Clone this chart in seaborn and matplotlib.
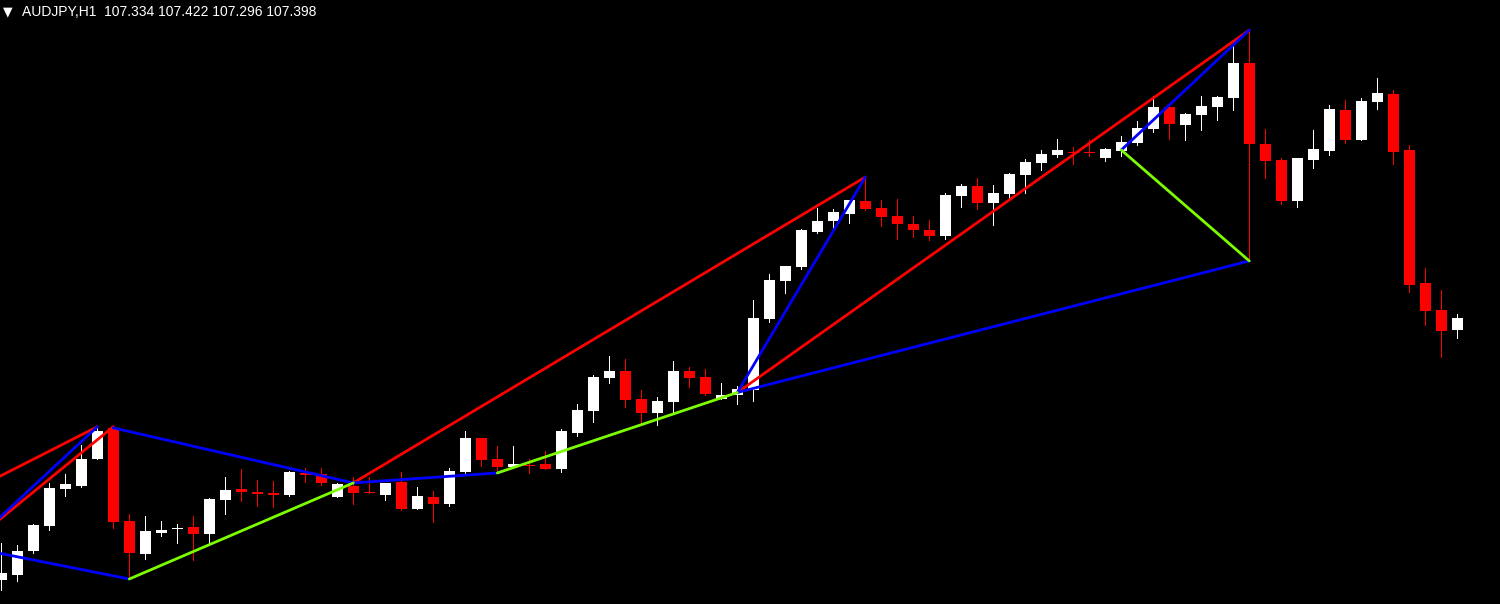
"""
AUDJPY H1 candles with zigzag trend lines, MT4 look
"""

import matplotlib
matplotlib.use('Agg')
import matplotlib.pyplot as plt
import seaborn as sns
import pandas as pd
import numpy as np

# OHLC per bar (bar 0 = leftmost visible)
opens = [106.007, 106.033, 106.161, 106.294, 106.492, 106.507, 106.650, 106.815, 106.320, 106.145,
         106.258, 106.276, 106.290, 106.251, 106.434, 106.492, 106.475, 106.471, 106.460, 106.576,
         106.570, 106.448, 106.507, 106.476, 106.459, 106.528, 106.384, 106.448, 106.411, 106.581,
         106.764, 106.650, 106.608, 106.618, 106.624, 106.597, 106.790, 106.907, 107.083, 107.118,
         106.969, 106.896, 106.955, 107.118, 107.086, 106.969, 106.991, 107.017, 107.395, 107.599,
         107.672, 107.858, 107.916, 107.954, 108.023, 107.985, 107.943, 107.900, 107.868, 107.837,
         108.050, 108.103, 108.012, 108.060, 108.161, 108.225, 108.267, 108.285, 108.283, 108.253,
         108.290, 108.331, 108.406, 108.523, 108.427, 108.480, 108.523, 108.571, 108.757, 108.326,
         108.241, 108.023, 108.241, 108.289, 108.507, 108.347, 108.549, 108.592, 108.294, 107.586,
         107.443, 107.334]
highs = [106.203, 106.193, 106.304, 106.523, 106.570, 106.725, 106.820, 106.820, 106.358, 106.347,
         106.320, 106.304, 106.347, 106.443, 106.554, 106.597, 106.539, 106.533, 106.586, 106.602,
         106.602, 106.523, 106.554, 106.554, 106.524, 106.581, 106.502, 106.480, 106.602, 106.801,
         106.764, 106.719, 106.719, 106.650, 106.693, 106.810, 106.943, 107.099, 107.198, 107.182,
         107.017, 106.982, 107.172, 107.140, 107.129, 107.055, 107.039, 107.496, 107.634, 107.677,
         107.874, 107.987, 107.980, 108.028, 108.151, 108.028, 108.033, 107.943, 107.922, 108.066,
         108.113, 108.145, 108.108, 108.172, 108.246, 108.294, 108.353, 108.312, 108.347, 108.305,
         108.369, 108.448, 108.581, 108.539, 108.491, 108.581, 108.581, 108.847, 108.936, 108.406,
         108.251, 108.251, 108.400, 108.533, 108.560, 108.571, 108.677, 108.613, 108.321, 107.666,
         107.549, 107.422]
lows = [105.953, 106.001, 106.150, 106.272, 106.453, 106.502, 106.650, 106.283, 106.017, 106.118,
        106.241, 106.203, 106.113, 106.198, 106.358, 106.427, 106.400, 106.395, 106.453, 106.528,
        106.512, 106.448, 106.411, 106.468, 106.432, 106.379, 106.384, 106.315, 106.400, 106.577,
        106.613, 106.581, 106.608, 106.576, 106.597, 106.581, 106.773, 106.849, 107.055, 106.928,
        106.831, 106.831, 106.902, 107.035, 106.991, 106.969, 106.941, 106.960, 107.381, 107.535,
        107.663, 107.852, 107.874, 107.907, 107.975, 107.890, 107.821, 107.831, 107.815, 107.821,
        107.991, 107.980, 107.895, 108.039, 108.066, 108.188, 108.256, 108.220, 108.262, 108.237,
        108.262, 108.321, 108.390, 108.353, 108.347, 108.400, 108.454, 108.507, 107.705, 108.145,
        108.007, 107.992, 108.198, 108.267, 108.331, 108.347, 108.512, 108.220, 107.540, 107.363,
        107.194, 107.296]
closes = [106.044, 106.161, 106.299, 106.496, 106.517, 106.650, 106.799, 106.315, 106.150, 106.267,
          106.272, 106.281, 106.253, 106.439, 106.487, 106.476, 106.466, 106.460, 106.581, 106.565,
          106.523, 106.517, 106.469, 106.468, 106.524, 106.384, 106.453, 106.411, 106.586, 106.764,
          106.645, 106.608, 106.624, 106.613, 106.597, 106.799, 106.911, 107.086, 107.118, 106.966,
          106.896, 106.959, 107.118, 107.083, 106.998, 106.991, 107.023, 107.400, 107.603, 107.677,
          107.868, 107.916, 107.964, 108.028, 107.980, 107.938, 107.900, 107.868, 107.837, 108.055,
          108.103, 108.012, 108.066, 108.166, 108.230, 108.273, 108.294, 108.276, 108.276, 108.299,
          108.337, 108.411, 108.523, 108.432, 108.486, 108.528, 108.576, 108.757, 108.326, 108.236,
          108.023, 108.251, 108.299, 108.512, 108.347, 108.555, 108.597, 108.283, 107.576, 107.437,
          107.333, 107.398]

# zigzag segments: (bar from, bar to) and (price from, price to)
red_bars = [(-1, 6), (-1, 7), (22, 54), (46, 78)]
red_prices = [(106.519, 106.822), (106.266, 106.822), (106.523, 108.150), (107.004, 108.932)]
blue_bars = [(-1, 6), (-1, 8), (7, 22), (22, 31), (46, 54), (46, 78), (70, 78)]
blue_prices = [(106.268, 106.822), (106.164, 106.012), (106.816, 106.523), (106.523, 106.576),
               (107.004, 108.150), (107.004, 107.704), (108.294, 108.932)]
green_bars = [(8, 22), (31, 46), (70, 78)]
green_prices = [(106.012, 106.523), (106.576, 107.004), (108.294, 107.704)]

header = "AUDJPY,H1  107.334 107.422 107.296 107.398"

sns.set_style('dark', {'axes.facecolor': 'black', 'figure.facecolor': 'black'})

fig = plt.figure(figsize=(15, 6.04), dpi=100)
ax = fig.add_axes([0, 0, 1, 1])
ax.set_facecolor('black')

bars = pd.DataFrame({'o': opens, 'h': highs, 'l': lows, 'c': closes})
bars['idx'] = np.arange(len(bars))
up = bars['c'] >= bars['o']
colors = np.where(up, 'white', '#ff0000')

# wicks then bodies (1px wicks like the terminal)
ax.vlines(bars['idx'], bars['l'], bars['h'], colors=colors, linewidth=0.72,
          antialiased=False, zorder=2)
body_lo = np.minimum(bars['o'], bars['c'])
body_h = np.maximum((bars['c'] - bars['o']).abs(), 0.005)
ax.bar(bars['idx'], body_h, bottom=body_lo, width=0.69, color=colors,
       linewidth=0, zorder=3)

# trend lines via seaborn
rows = []
for kind, seg_bars, seg_prices in [('red', red_bars, red_prices),
                                   ('blue', blue_bars, blue_prices),
                                   ('green', green_bars, green_prices)]:
    for k, (bx, py) in enumerate(zip(seg_bars, seg_prices)):
        for b, p in zip(bx, py):
            rows.append({'kind': kind, 'seg': f'{kind}{k}', 'bar': b, 'price': p})
seg_df = pd.DataFrame(rows)

palette = {'red': '#ff0000', 'blue': '#0000ff', 'green': '#7cfc00'}
sns.lineplot(data=seg_df, x='bar', y='price', hue='kind', units='seg',
             estimator=None, sort=False, palette=palette, linewidth=2,
             legend=False, ax=ax, zorder=4)

ax.set_xlim(-0.081, 93.67)
ax.set_ylim(105.879, 109.092)
ax.set_xticks([])
ax.set_yticks([])
ax.set_xlabel('')
ax.set_ylabel('')
for s in ax.spines.values():
    s.set_visible(False)

# header
fig.text(3 / 1500, 1 - 12 / 604, '▼', color='white', fontsize=9,
         va='center', ha='left', family='DejaVu Sans')
fig.text(22 / 1500, 1 - 12 / 604, header, color='white', fontsize=10,
         va='center', ha='left', family='Liberation Sans')

plt.savefig('out.png', dpi=100, facecolor='black')
plt.close()
